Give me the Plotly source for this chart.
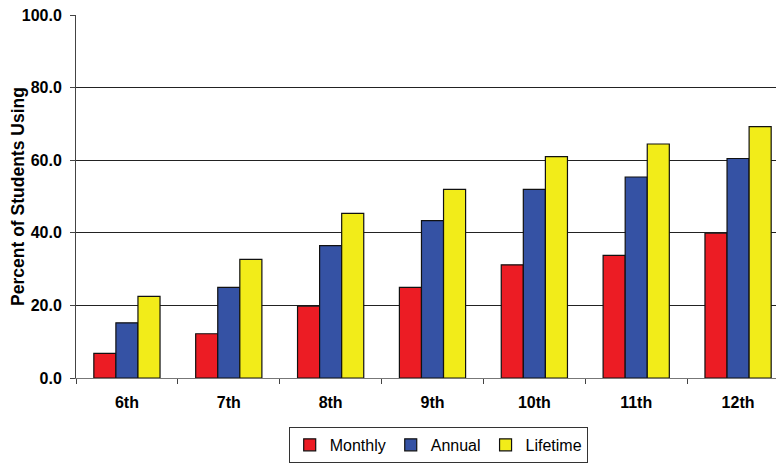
import plotly.graph_objects as go

grades = ["6th", "7th", "8th", "9th", "10th", "11th", "12th"]
monthly = [6.8, 12.2, 19.8, 25.0, 31.2, 33.8, 39.9]
annual = [15.2, 25.0, 36.5, 43.4, 52.0, 55.4, 60.5]
lifetime = [22.5, 32.7, 45.4, 52.0, 61.0, 64.5, 69.3]

fig = go.Figure()
for name, vals, col in [("Monthly", monthly, "#ec1c24"),
                        ("Annual", annual, "#3552a4"),
                        ("Lifetime", lifetime, "#f2ec19")]:
    fig.add_trace(go.Bar(x=grades, y=vals, name=name, marker_color=col,
                         marker_line=dict(color="#111111", width=1.2)))

# page body has an 8px margin, so margins are shifted to compensate
fig.update_layout(
    width=784, height=465,
    barmode="group", bargap=0.35, bargroupgap=0,
    plot_bgcolor="white", paper_bgcolor="white",
    margin=dict(l=68, r=3, t=7, b=95, autoexpand=False),
    font=dict(family="Liberation Sans, Arial", size=16, color="black"),
    legend=dict(orientation="h", x=0.508, xanchor="center", y=-0.234, yanchor="bottom",
                bordercolor="#333333", borderwidth=1, itemwidth=30,
                font=dict(size=16), traceorder="normal"),
)
fig.update_yaxes(range=[0, 100.05], dtick=20, tickformat=".1f", automargin=False,
                 showgrid=True, gridcolor="#222222", gridwidth=1,
                 showline=True, linecolor="#444444", ticks="outside", ticklen=5,
                 tickcolor="#444444", zeroline=False, ticklabelstandoff=5,
                 ticklabeloverflow="allow",
                 tickfont=dict(size=16), tickprefix="<b>", ticksuffix="</b>",
                 title=dict(text="<b>Percent of Students Using</b>", font=dict(size=17.5), standoff=7))
fig.update_xaxes(range=[-0.5, 6.5], showline=True, linecolor="#777777", automargin=False,
                 ticks="outside", ticklen=5, tickcolor="#444444", ticklabelstandoff=10,
                 tickson="boundaries", tickfont=dict(size=16),
                 tickprefix="<b>", ticksuffix="</b>")

fig.write_html("out.html")
